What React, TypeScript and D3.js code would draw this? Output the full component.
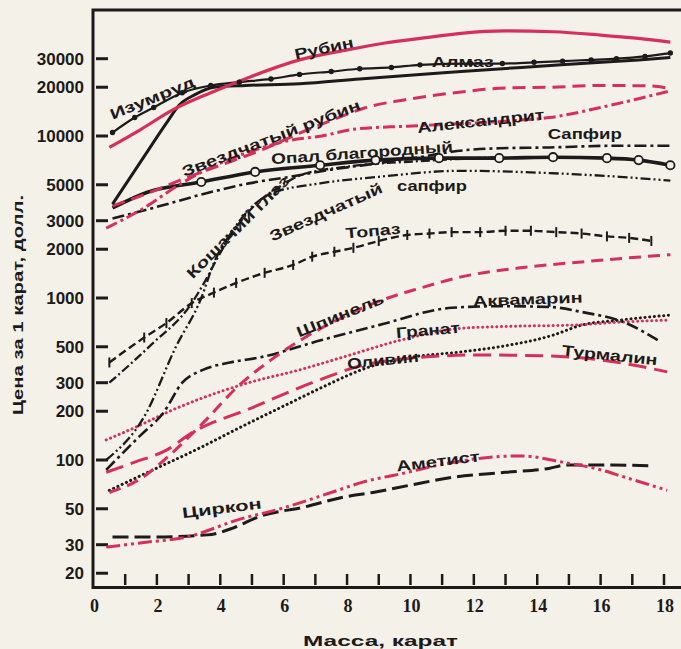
import React, { useRef, useEffect } from 'react';
import * as d3 from 'd3';

// Цена за 1 карат (долл.) в зависимости от массы камня (карат)
const rubin = [[0.5, 8500], [1.5, 11000], [2.5, 14500], [3.7, 18500], [4.9, 23000], [6.5, 29500], [8, 34000], [9.2, 37500], [10.5, 40500], [11.6, 43000], [13, 44500], [14.5, 44000], [16, 42000], [17.2, 40000], [18.2, 38000]];
const izumrud = [[0.6, 10500], [1.3, 13000], [1.9, 15000], [2.8, 18500], [3.7, 20500], [4.6, 21500], [5.6, 22500], [6.5, 24000], [7.5, 25000], [8.4, 26000], [9.4, 26500], [10.3, 27500], [11.9, 28000], [12.9, 28000], [13.9, 28500], [14.8, 29000], [15.7, 29500], [16.5, 30000], [17.4, 31000], [18.2, 32500]];
const almaz = [[0.6, 3800], [1.5, 7000], [2.3, 12000], [2.7, 15500], [3.2, 18000], [3.8, 20000], [4.8, 20500], [6.5, 21000], [8.4, 22500], [10.3, 24000], [11.6, 25000], [13.5, 26500], [15.4, 28000], [17.2, 29500], [18.2, 30500]];
const zvRubin = [[0.6, 3700], [1.8, 4500], [2.9, 5500], [4.0, 6600], [5.3, 8200], [6.5, 10400], [7.6, 12700], [8.6, 15000], [9.8, 16700], [11.6, 18700], [13.0, 19800], [14.4, 20000], [16.0, 20500], [17.5, 20400], [18.1, 19800]];
const aleksandrit = [[0.4, 2700], [1.6, 3600], [2.7, 5000], [4.0, 6800], [5.1, 8200], [6.2, 9400], [7.2, 10000], [8.2, 11000], [9.9, 11500], [11.9, 12000], [13.4, 12500], [14.4, 13000], [16.0, 15000], [17.2, 17000], [18.2, 19000]];
const sapfir = [[0.6, 3100], [2.0, 3650], [3.5, 4400], [4.9, 5100], [6.2, 5600], [7.5, 6200], [9.0, 6800], [10.3, 7400], [11.3, 8000], [12.8, 8400], [14.4, 8500], [16.3, 8700], [18.2, 8700]];
const opal = [[0.6, 3600], [1.7, 4500], [3.4, 5200], [5.1, 6000], [7.15, 6600], [8.9, 7100], [10.9, 7300], [12.8, 7300], [14.5, 7400], [16.2, 7300], [17.2, 7100], [18.2, 6600]];
const koshGlaz = [[0.5, 300], [1.8, 510], [3.1, 930], [3.5, 1250], [4.0, 1900], [4.6, 2900], [5.25, 4000], [5.9, 4900], [6.5, 5700], [8.1, 6500], [10.3, 7000], [12.8, 7400]];
const zvSapfir = [[0.4, 100], [1.6, 185], [2.6, 500], [3.4, 1000], [3.8, 1650], [4.3, 2450], [4.9, 3500], [5.6, 4400], [7.15, 5100], [9.0, 5600], [11.6, 6100], [14.4, 5900], [16.6, 5600], [18.2, 5300]];
const topaz = [[0.5, 400], [1.6, 570], [2.3, 700], [3.1, 930], [3.8, 1080], [4.5, 1240], [5.4, 1430], [6.3, 1600], [6.9, 1800], [7.6, 1930], [8.2, 2040], [9.0, 2250], [9.9, 2450], [10.6, 2500], [11.3, 2550], [12.2, 2550], [13.0, 2600], [13.8, 2600], [14.6, 2550], [15.4, 2500], [16.2, 2400], [16.9, 2350], [17.6, 2250]];
const shpinel = [[0.5, 63], [1.5, 77], [2.4, 107], [3.4, 165], [4.6, 290], [5.6, 415], [6.7, 575], [7.8, 750], [9.1, 970], [10.3, 1150], [11.6, 1350], [13.4, 1530], [15.4, 1670], [16.9, 1770], [18.2, 1850]];
const akvamarin = [[0.4, 87], [1.5, 143], [2.2, 195], [2.8, 300], [3.45, 360], [4.3, 400], [5.25, 430], [7.2, 550], [9.0, 680], [11.3, 870], [12.8, 890], [14.4, 880], [15.4, 820], [16.8, 700], [17.8, 550]];
const granat = [[0.4, 133], [1.5, 165], [2.4, 200], [3.4, 240], [4.9, 300], [6.5, 360], [8.1, 445], [9.7, 550], [11.6, 650], [13.4, 670], [15.1, 680], [16.6, 710], [18.1, 730]];
const olivin = [[0.5, 65], [1.6, 82], [3.4, 120], [4.6, 158], [6.2, 225], [7.2, 280], [8.7, 375], [10, 430], [11.6, 465], [12.8, 500], [14.5, 590], [15.4, 680], [16.6, 730], [18.2, 785]];
const turmalin = [[0.4, 84], [1.3, 97], [2.3, 115], [3.1, 147], [5.0, 210], [6.9, 300], [8.4, 380], [10.3, 430], [12.2, 445], [14.1, 440], [16.0, 415], [17.2, 380], [18.1, 350]];
const ametist = [[0.4, 29], [1.6, 31], [2.95, 33.5], [4.6, 43], [5.9, 50], [7.5, 63], [8.5, 73], [9.8, 83], [10.9, 93], [12.3, 103], [13.5, 106], [14.8, 97], [16.0, 87], [16.7, 79], [18.1, 65]];
const tsirkon = [[0.6, 33.5], [1.8, 33.5], [3.6, 34.5], [4.4, 38], [5.2, 44.5], [6.7, 51.5], [7.8, 58.5], [8.9, 63.5], [10, 70], [11.3, 78], [13, 84], [14.4, 89], [14.9, 93], [16.3, 93], [17.65, 92]];

const xTicks = d3.range(1, 19);
const xLabels = [0, 2, 4, 6, 8, 10, 12, 14, 16, 18];
const yTicks = [20, 30, 50, 100, 200, 300, 500, 1000, 2000, 3000, 5000, 10000, 20000, 30000];

const RED = '#d6305a';
const INK = '#1c1a1a';
const PAPER = '#f4f1e8';
const SANS = '"Liberation Sans", Arial, sans-serif';
const SERIF = '"Liberation Serif", "Times New Roman", serif';

export default function App() {
    const svgRef = useRef(null);
    useEffect(() => {
        const svg = d3.select(svgRef.current);
        svg.selectAll('*').remove();
        const x = d3.scaleLinear().domain([0, 18]).range([93.5, 664]);
        const y = d3.scaleLog().domain([1000, 10000]).range([298, 136]);

        svg.append('rect').attr('width', 681).attr('height', 649).attr('fill', PAPER);

        // рамка
        svg.append('path')
            .attr('d', 'M681,10 H93 V587.5 H681')
            .attr('fill', 'none').attr('stroke', INK).attr('stroke-width', 3);

        // деления оси y
        svg.selectAll('.ytick').data(yTicks).enter().append('line')
            .attr('x1', 96).attr('x2', 108)
            .attr('y1', d => y(d)).attr('y2', d => y(d))
            .attr('stroke', INK).attr('stroke-width', 3);
        svg.selectAll('.ylab').data(yTicks).enter().append('text')
            .attr('x', 84).attr('y', d => y(d)).attr('dy', '0.36em')
            .attr('text-anchor', 'end')
            .style('font-family', SANS).style('font-weight', 'bold').style('font-size', '17px')
            .attr('fill', INK)
            .text(d => d);

        // деления оси x
        svg.selectAll('.xtick').data(xTicks).enter().append('line')
            .attr('x1', d => x(d)).attr('x2', d => x(d))
            .attr('y1', 574).attr('y2', 585)
            .attr('stroke', INK).attr('stroke-width', 2.5);
        svg.selectAll('.xlab').data(xLabels).enter().append('text')
            .attr('x', d => x(d) + 1).attr('y', 612)
            .attr('text-anchor', 'middle')
            .style('font-family', SERIF).style('font-weight', 'bold').style('font-size', '18px')
            .attr('fill', INK)
            .text(d => d);

        svg.append('text')
            .attr('x', 303).attr('y', 646)
            .attr('textLength', 155).attr('lengthAdjust', 'spacingAndGlyphs')
            .style('font-family', SANS).style('font-weight', 'bold').style('font-size', '15px')
            .attr('fill', INK)
            .text('Масса, карат');
        svg.append('text')
            .attr('transform', 'translate(23,305) rotate(-90)')
            .attr('text-anchor', 'middle')
            .attr('textLength', 220).attr('lengthAdjust', 'spacingAndGlyphs')
            .style('font-family', SANS).style('font-weight', 'bold').style('font-size', '15px')
            .attr('fill', INK)
            .text('Цена за 1 карат, долл.');

        const series = [
            { data: tsirkon, color: INK, width: 3, dash: '16,6' },
            { data: ametist, color: RED, width: 3, dash: '14,4,3,4,3,4' },
            { data: olivin, color: INK, width: 3, dash: '0.1,4.6', cap: 'round' },
            { data: turmalin, color: RED, width: 3, dash: '18,8' },
            { data: granat, color: RED, width: 3, dash: '0.1,4.6', cap: 'round' },
            { data: akvamarin, color: INK, width: 2.6, dash: '12,4,3,4' },
            { data: shpinel, color: RED, width: 3, dash: '12,7' },
            { data: topaz, color: INK, width: 2.4, dash: '8,4' },
            { data: zvSapfir, color: INK, width: 2.3, dash: '10,3,2,3,2,3' },
            { data: koshGlaz, color: INK, width: 2.3, dash: '9,3,2,3' },
            { data: sapfir, color: INK, width: 2.6, dash: '12,4,3,4' },
            { data: opal, color: INK, width: 3.6, dash: null },
            { data: aleksandrit, color: RED, width: 3, dash: '12,4,3,4' },
            { data: zvRubin, color: RED, width: 3, dash: '13,7' },
            { data: almaz, color: INK, width: 3, dash: null },
            { data: izumrud, color: INK, width: 2.2, dash: null },
            { data: rubin, color: RED, width: 3.2, dash: null }
        ];
        const line = d3.line()
            .x(d => x(d[0]))
            .y(d => y(d[1]))
            .curve(d3.curveMonotoneX);
        series.forEach(s => {
            svg.append('path')
                .datum(s.data)
                .attr('d', line)
                .attr('fill', 'none')
                .attr('stroke', s.color)
                .attr('stroke-width', s.width)
                .attr('stroke-linecap', s.cap || 'butt')
                .attr('stroke-dasharray', s.dash);
        });

        // маркеры: изумруд — точки, топаз — крестики, опал — кружки
        svg.selectAll('.izm').data(izumrud).enter().append('circle')
            .attr('cx', d => x(d[0])).attr('cy', d => y(d[1])).attr('r', 2.7)
            .attr('fill', INK);
        svg.selectAll('.tpz').data(topaz).enter().append('line')
            .attr('x1', d => x(d[0])).attr('x2', d => x(d[0]))
            .attr('y1', d => y(d[1]) - 5).attr('y2', d => y(d[1]) + 5)
            .attr('stroke', INK).attr('stroke-width', 2);
        svg.selectAll('.opl').data(opal.slice(2)).enter().append('circle')
            .attr('cx', d => x(d[0])).attr('cy', d => y(d[1])).attr('r', 4.2)
            .attr('fill', PAPER).attr('stroke', INK).attr('stroke-width', 1.8);

        // подписи кривых
        const labels = [
            { t: 'Рубин', x: 7.27, y: 34900, a: -12, len: 60 },
            { t: 'Алмаз', x: 11.65, y: 28600, a: 0, len: 62 },
            { t: 'Изумруд', x: 1.85, y: 17200, a: -22, len: 90 },
            { t: 'Звездчатый рубин', x: 5.6, y: 9720, a: -21, len: 190 },
            { t: 'Александрит', x: 12.22, y: 12400, a: -6, len: 128 },
            { t: 'Сапфир', x: 15.5, y: 10400, a: 0, len: 74 },
            { t: 'Опал благородный', x: 8.47, y: 7900, a: -4, len: 182 },
            { t: 'Кошачий глаз', x: 4.55, y: 2750, a: -45, len: 138 },
            { t: 'Звездчатый', x: 7.33, y: 3400, a: -24, len: 122 },
            { t: 'сапфир', x: 10.68, y: 4910, a: 0, len: 70 },
            { t: 'Топаз', x: 8.82, y: 2600, a: -5, len: 55 },
            { t: 'Шпинель', x: 7.78, y: 785, a: -22, len: 93 },
            { t: 'Аквамарин', x: 13.7, y: 985, a: -2, len: 110 },
            { t: 'Гранат', x: 10.55, y: 634, a: -5, len: 64 },
            { t: 'Оливин', x: 9.13, y: 414, a: -6, len: 72 },
            { t: 'Турмалин', x: 16.29, y: 445, a: 6, len: 96 },
            { t: 'Аметист', x: 10.87, y: 98.6, a: -7, len: 84 },
            { t: 'Циркон', x: 4.05, y: 50.6, a: -7, len: 80 }
        ];
        svg.selectAll('.lbl').data(labels).enter().append('text')
            .attr('transform', d => `translate(${x(d.x)},${y(d.y)}) rotate(${d.a})`)
            .attr('x', d => -d.len / 2)
            .attr('dy', '0.36em')
            .attr('textLength', d => d.len)
            .attr('lengthAdjust', 'spacingAndGlyphs')
            .style('font-family', SANS).style('font-weight', 'bold').style('font-size', '15px')
            .attr('fill', INK)
            .text(d => d.t);

        return () => {
            d3.select(svgRef.current).selectAll('*').remove();
        };
    }, []);
    return (<svg ref={svgRef} width={681} height={649} style={{ position: 'absolute', left: 0, top: 0 }}></svg>);
}
